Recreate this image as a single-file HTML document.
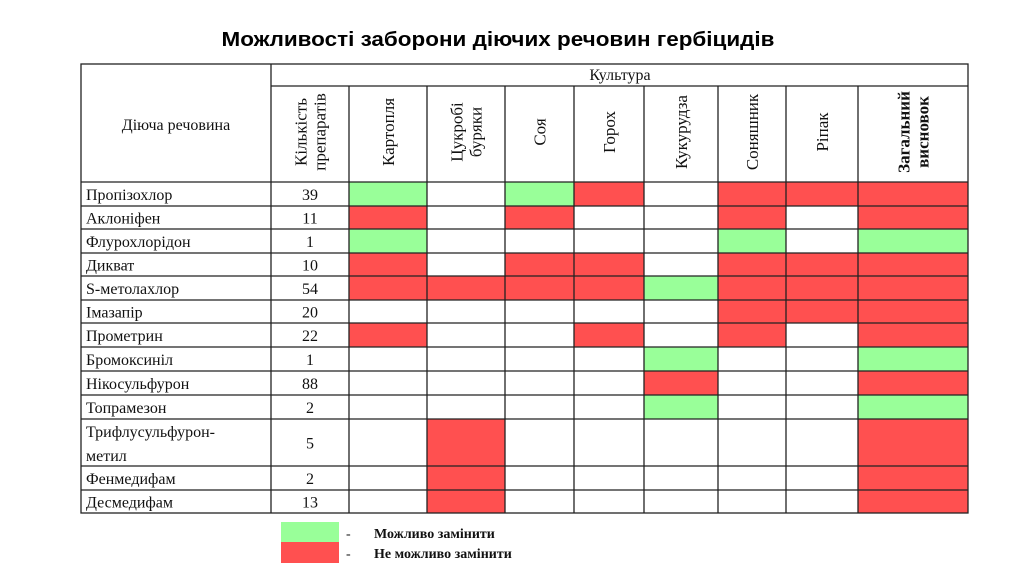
<!DOCTYPE html>
<html><head><meta charset="utf-8"><style>
body{margin:0;background:#fff;width:1024px;height:574px;overflow:hidden}
svg{display:block}
</style></head><body>
<svg id="s" width="1024" height="574" xmlns="http://www.w3.org/2000/svg">
<text x="498" y="46" text-anchor="middle" font-family="Liberation Sans, sans-serif" font-weight="bold" font-size="20" textLength="553" lengthAdjust="spacingAndGlyphs">Можливості заборони діючих речовин гербіцидів</text>
</svg>
<script>
const substances=["Пропізохлор","Аклоніфен","Флурохлорідон","Дикват","S-метолахлор","Імазапір","Прометрин","Бромоксиніл","Нікосульфурон","Топрамезон","Трифлусульфурон-|метил","Фенмедифам","Десмедифам"];
const counts=[39,11,1,10,54,20,22,1,88,2,5,2,13];
const crops=["Картопля","Цукробі|буряки","Соя","Горох","Кукурудза","Соняшник","Ріпак","Загальний|висновок"];
const status=[
"G-GR-RRR","R-R--R-R","G----G-G","R-RR-RRR","RRRRGRRR","-----RRR","R--R-R-R",
"----G--G","----R--R","----G--G","-R-----R","-R-----R","-R-----R"];
const colX=[81,271,349,427,505,574,644,718,786,858,968];
const rowY=[182,206,229,253,276,300,323,347,371,395,419,466,490,513];
const svg=document.getElementById('s');const NS="http://www.w3.org/2000/svg";
function mk(t,a,p){const e=document.createElementNS(NS,t);for(const k in a)e.setAttribute(k,a[k]);(p||svg).appendChild(e);return e;}
const COL={G:"#99ff99",R:"#ff5050"};
status.forEach((r,i)=>{[...r].forEach((c,j)=>{if(c==='-')return;
const e=mk('rect',{x:colX[j+2],y:rowY[i],width:colX[j+3]-colX[j+2],height:rowY[i+1]-rowY[i],fill:COL[c]});

});});
const L={stroke:"#222","stroke-width":1.3};
mk('rect',Object.assign({x:81,y:64,width:887,height:449,fill:"none"},L));
mk('line',Object.assign({x1:271,y1:86,x2:968,y2:86},L));
for(let k=1;k<colX.length-1;k++)mk('line',Object.assign({x1:colX[k],y1:k==1?64:86,x2:colX[k],y2:513},L));
for(let k=0;k<rowY.length-1;k++)mk('line',Object.assign({x1:81,y1:rowY[k],x2:968,y2:rowY[k]},L));
const F="Liberation Serif, serif";
function txt(s,a){const e=mk('text',Object.assign({"font-family":F,"font-size":16,fill:"#111"},a));e.textContent=s;return e;}
let t=txt("Культура",{x:620,y:80,"text-anchor":"middle"});
t=txt("Діюча речовина",{x:176,y:130,"text-anchor":"middle"});
const heads=["Кількість|препаратів"].concat(crops);
heads.forEach((h,j)=>{const cx=(colX[j+1]+colX[j+2])/2,cy=132;const lines=h.split('|');
lines.forEach((ln,k)=>{const off=(k-(lines.length-1)/2)*19;
const e=txt(ln,{x:0,y:0,"text-anchor":"middle","font-size":17,"font-weight":j==8?"bold":"normal",transform:`translate(${cx+off+6},${cy}) rotate(-90)`});
});});
substances.forEach((s,i)=>{const y0=rowY[i],y1=rowY[i+1];const lines=s.split('|');
lines.forEach((ln,k)=>{const yy=lines.length==1?(y0+y1)/2+6:y0+18+k*24;
const e=txt(ln,{x:86,y:yy});});
const c=txt(String(counts[i]),{x:310,y:(y0+y1)/2+6,"text-anchor":"middle"});
});
let g=mk('rect',{x:281,y:522,width:58,height:20,fill:"#99ff99"});
g=mk('rect',{x:281,y:542,width:58,height:21,fill:"#ff5050"});
txt("-",{x:346,y:538,"font-size":14});txt("-",{x:346,y:558,"font-size":14});
t=txt("Можливо замінити",{x:374,y:538,"font-size":14,"font-weight":"bold"});
t=txt("Не можливо замінити",{x:374,y:558,"font-size":14,"font-weight":"bold"});
</script>
</body></html>
